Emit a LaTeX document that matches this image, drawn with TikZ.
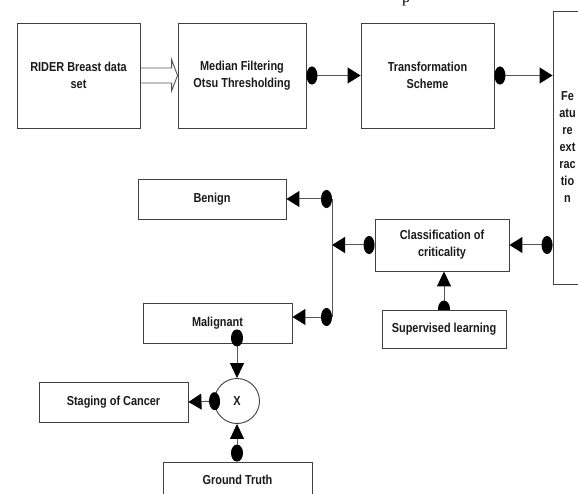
\documentclass[tikz,border=0pt]{standalone}
\usepackage{fontspec}
\setmainfont{Liberation Sans}[FakeStretch=0.84]
\newfontfamily\serifp{Liberation Serif}
\usetikzlibrary{arrows.meta,calc}
\pgfdeclarelayer{bg}
\pgfdeclarelayer{bgbase}
\pgfsetlayers{bgbase,bg,main}
\definecolor{boxgray}{HTML}{404040}
\definecolor{linegray}{HTML}{555555}
\definecolor{txt}{HTML}{1A1A1A}
\tikzset{
  box/.style={draw=boxgray, line width=0.9pt, fill=white, align=center, inner sep=0pt,
    text=txt, font=\fontsize{13}{17}\selectfont\bfseries},
  hcon/.style={draw=linegray, line width=1pt,
    {Circle[color=black,length=11pt,width=18pt]}-{Triangle[color=black,length=13pt,width=16pt]}},
  vcon/.style={draw=linegray, line width=1pt,
    {Circle[color=black,length=17pt,width=12pt]}-{Triangle[color=black,length=15pt,width=14pt]}},
  plain/.style={draw=linegray, line width=1pt},
}
\begin{document}
\begin{tikzpicture}[x=1pt,y=-1pt]
\useasboundingbox (0,0) rectangle (578,494);
\clip (0,0) rectangle (578,494);
\begin{pgfonlayer}{bgbase}
\fill[white] (0,0) rectangle (578,494);
\end{pgfonlayer}

% cropped caption letter at the top
\node[font=\serifp\fontsize{16}{16}\selectfont, anchor=base, inner sep=0pt] (capp) at (406,3) {p};

% boxes
\node[box, minimum width=123pt, minimum height=105pt] (rider) at (78.5,75.5) {RIDER Breast data\\set};
\node[box, minimum width=128pt, minimum height=105pt] (median) at (242,75.5) {Median Filtering\\Otsu Thresholding};
\node[box, minimum width=133pt, minimum height=105pt] (trans) at (427.5,75.5) {Transformation\\Scheme};
\node[box, minimum width=29pt, minimum height=273pt] (feat) at (567.5,147.5) {Fe\\atu\\re\\ext\\rac\\tio\\n};
\node[box, minimum width=148pt, minimum height=40pt] (benign) at (212,199) {Benign};
\node[box, minimum width=134pt, minimum height=52pt] (class) at (442,245) {Classification of\\criticality};
\node[box, minimum width=124pt, minimum height=38pt] (sup) at (444,329) {Supervised learning};
\node[box, minimum width=149pt, minimum height=40pt] (malig) at (217.5,323) {Malignant};
\node[box, minimum width=149pt, minimum height=40pt] (stage) at (113.5,402) {Staging of Cancer};
\node[box, minimum width=149pt, minimum height=36pt] (ground) at (237.5,480) {Ground Truth};
\node[draw=boxgray, line width=0.9pt, fill=white, circle, minimum size=45pt, inner sep=0pt,
  text=txt, font=\fontsize{13}{17}\selectfont\bfseries] (circ) at (237,401) {X};

% junction points
\coordinate (jt) at (332,199);
\coordinate (jm) at (332,245);
\coordinate (jb) at (332,317);

% hollow double arrow
\draw[plain, line width=0.9pt]
  ($(rider.east)+(0,-7.5)$) -- ($(median.west)+(-6,-7.5)$) -- ($(median.west)+(-6,-16)$)
  -- (median.west) -- ($(median.west)+(-6,15.5)$) -- ($(median.west)+(-6,7.5)$)
  -- ($(rider.east)+(0,7.5)$);

% connectors
\draw[hcon] (median.east) -- (trans.west);
\draw[hcon] (trans.east) -- (trans.east -| feat.west);
\draw[hcon] (class.east -| feat.west) -- (class.east);
\draw[hcon] (class.west) -- (jm);
\draw[plain] (jt) -- (jb);
\draw[hcon] (jt) -- (benign.east);
\draw[hcon] (jb) -- (jb -| malig.east);
\begin{pgfonlayer}{bg}
\draw[vcon] ($(class.south |- sup.north)+(2,8)$) -- ($(class.south)+(2,0)$);
\end{pgfonlayer}
\draw[vcon] ($(circ.north |- malig.south)+(0,-14)$) -- (circ.north);
\draw[hcon] ($(circ.west)+(6,0)$) -- (stage.east);
\draw[vcon] (circ.south |- ground.north) -- (circ.south);
\end{tikzpicture}
\end{document}
